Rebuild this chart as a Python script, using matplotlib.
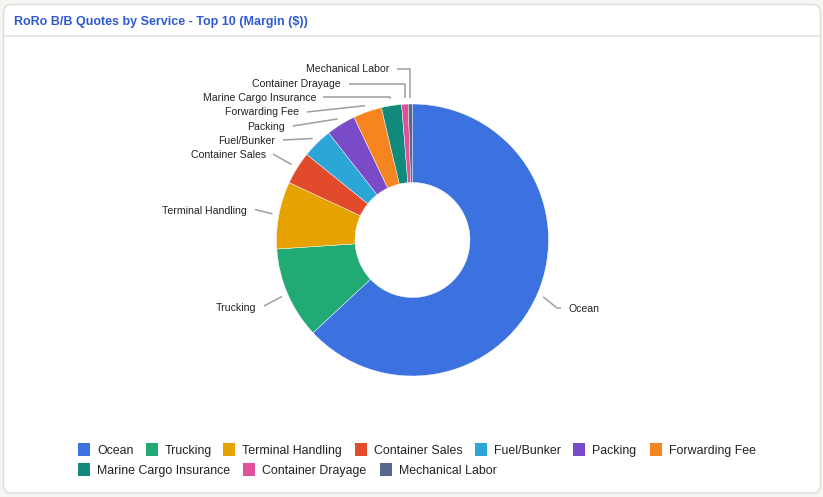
import numpy as np
import matplotlib
matplotlib.use('Agg')
import matplotlib.pyplot as plt
from matplotlib.patches import FancyBboxPatch, Rectangle

plt.rcParams['font.family'] = ['Liberation Sans', 'DejaVu Sans']

# ---- data -------------------------------------------------------------
services = ['Ocean', 'Trucking', 'Terminal Handling', 'Container Sales', 'Fuel/Bunker',
            'Packing', 'Forwarding Fee', 'Marine Cargo Insurance', 'Container Drayage',
            'Mechanical Labor']
margin = [63100, 10900, 8000, 3900, 3600, 3500, 3400, 2400, 780, 500]
colors = ['#3c72df', '#21aa73', '#e6a300', '#e14b2b', '#2ca5d7',
          '#7a4bc9', '#f6841f', '#128a7b', '#e0509b', '#55698c']
title = 'RoRo B/B Quotes by Service - Top 10 (Margin ($))'

# ---- layout (pixels) --------------------------------------------------
W, H = 823, 497
CX, CY, R, R_IN = 412.5, 240.0, 136.0, 57.5

# leader waypoints after the anchor (None = anchor x) and text position
label_layout = {
    'Ocean': ([(557, 308), (561, 308)], (569, 308.5), 'left'),
    'Trucking': ([(264, 306)], (256, 307), 'right'),
    'Terminal Handling': ([(255, 209.5)], (247, 210.5), 'right'),
    'Container Sales': ([(273, 154)], (266, 154.5), 'right'),
    'Fuel/Bunker': ([(283, 140)], (275, 140.5), 'right'),
    'Packing': ([(293, 126)], (285, 126.5), 'right'),
    'Forwarding Fee': ([(307, 112)], (299, 111.5), 'right'),
    'Marine Cargo Insurance': ([(None, 97), (323, 97)], (316, 97.5), 'right'),
    'Container Drayage': ([(None, 83.5), (349, 83.5)], (341, 83.5), 'right'),
    'Mechanical Labor': ([(None, 68.5), (397, 68.5)], (389, 68.5), 'right'),
}

legend_pos = [(78, 449.5), (146, 449.5), (223, 449.5), (355, 449.5), (475, 449.5),
              (573, 449.5), (650, 449.5), (78, 469.5), (243, 469.5), (380, 469.5)]

fig = plt.figure(figsize=(W / 100, H / 100), dpi=100)
fig.patch.set_facecolor('#f6f5f1')

# background card, pixel coordinates
bg = fig.add_axes([0, 0, 1, 1], zorder=0)
bg.set_xlim(0, W)
bg.set_ylim(H, 0)
bg.axis('off')
card = FancyBboxPatch((3.5, 4.5), 817, 488.5, boxstyle='round,pad=0,rounding_size=8',
                      facecolor='white', edgecolor='#dcdcdc', linewidth=1)
bg.add_patch(card)
bg.plot([3.5, 820.5], [36, 36], color='#e3e3e3', linewidth=1.2)
bg.text(14, 24.5, title, fontsize=9, fontweight='bold', color='#2f5bd0',
        ha='left', va='baseline')

# donut in an axes scaled so one unit == R pixels
ax = fig.add_axes([0, 0, 1, 1], zorder=1)
wedges, _ = ax.pie(margin, colors=colors, startangle=90, counterclock=False, radius=1,
                   wedgeprops=dict(width=(R - R_IN) / R, edgecolor='white', linewidth=0.3))
ax.set_xlim(-CX / R, (W - CX) / R)
ax.set_ylim(-(H - CY) / R, CY / R)
ax.set_aspect('equal')
ax.axis('off')

# leader lines + labels (drawn in pixel axes)
fracs = np.array(margin) / np.sum(margin)
ends = np.cumsum(fracs)
mids = (ends - fracs / 2) * 360.0
for name, mid in zip(services, mids):
    theta = np.deg2rad(90 - mid)
    ax_px = CX + 1.047 * R * np.cos(theta)
    ay_px = CY - 1.047 * R * np.sin(theta)
    pts, (tx, ty), ha = label_layout[name]
    xs, ys = [ax_px], [ay_px]
    for px, py in pts:
        xs.append(ax_px if px is None else px)
        ys.append(py)
    bg.plot(xs, ys, color='#9e9e9e', linewidth=1.1, zorder=3, solid_capstyle='butt')
    bg.text(tx, ty + 3.8, name, fontsize=7.6, color='#222222', ha=ha, va='baseline', zorder=3)

# legend
for name, col, (lx, ly) in zip(services, colors, legend_pos):
    bg.add_patch(Rectangle((lx, ly - 6.5), 12.5, 12.5, facecolor=col, edgecolor='none', zorder=3))
    bg.text(lx + 19, ly + 4.5, name, fontsize=8.9, color='#222222', ha='left', va='baseline', zorder=3)

fig.savefig('out.png', dpi=100, facecolor=fig.get_facecolor())
